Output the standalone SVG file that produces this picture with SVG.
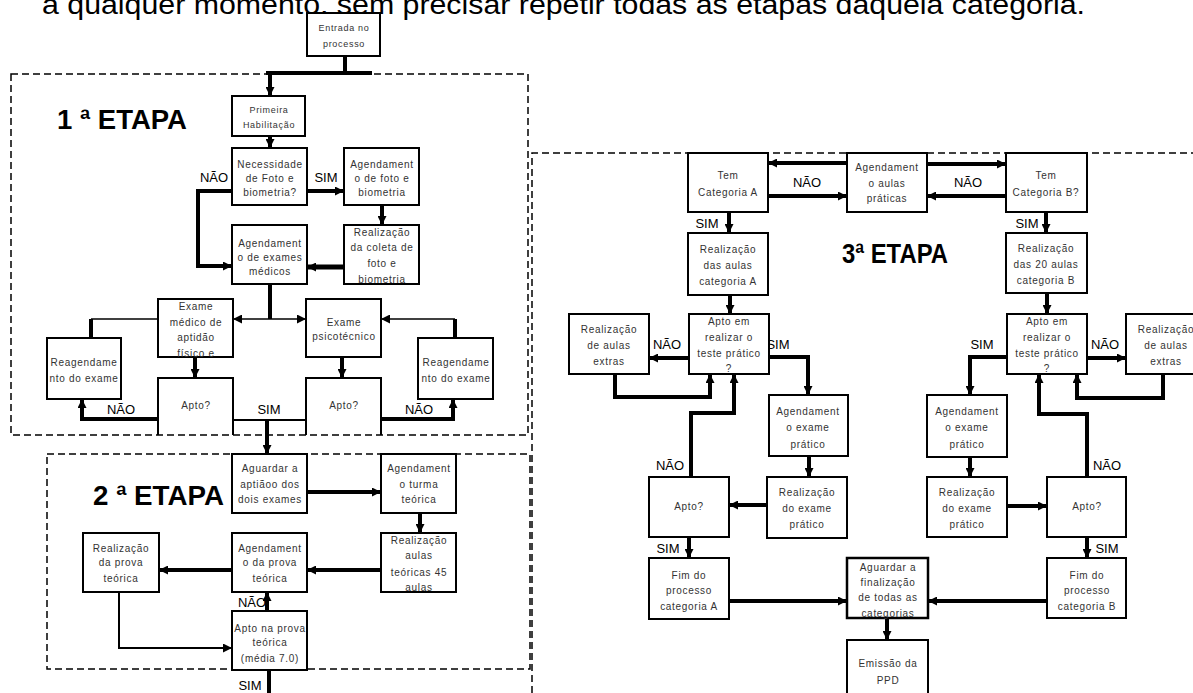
<svg xmlns="http://www.w3.org/2000/svg" width="1193" height="693" viewBox="0 0 1193 693">
<defs>
<marker id="ah" viewBox="0 0 9 9" refX="9" refY="4.5" markerWidth="9" markerHeight="9" markerUnits="userSpaceOnUse" orient="auto-start-reverse"><path d="M0,0 L9,4.5 L0,9 z" fill="#000"/></marker>
<style>
.bx{fill:#fff;stroke:#000;stroke-width:2}
.op{fill:none;stroke:#000;stroke-width:2}
.t{font-family:"Liberation Sans",Arial,sans-serif;font-size:10px;letter-spacing:0.7px;fill:#333;text-anchor:middle}
.lb{font-family:"Liberation Sans",Arial,sans-serif;font-size:13px;fill:#000;text-anchor:middle}
.st{font-family:"Liberation Sans",Arial,sans-serif;font-size:27px;font-weight:bold;fill:#000}
.dash{fill:none;stroke:#000;stroke-width:1.5;stroke-dasharray:7 4}
.k{fill:none;stroke:#000;stroke-width:4}
.n{fill:none;stroke:#000;stroke-width:1.5}
.a{marker-end:url(#ah)}
</style>
</defs>
<rect width="1193" height="693" fill="#fff"/>
<text x="42" y="14" font-family="Liberation Sans, Arial, sans-serif" font-size="27" textLength="1043" lengthAdjust="spacingAndGlyphs" fill="#000">a qualquer momento, sem precisar repetir todas as etapas daquela categoria.</text>

<g id="stages">
<rect class="dash" x="11" y="74" width="517" height="361"/>
<rect class="dash" x="47" y="454" width="483" height="215"/>
<path class="dash" d="M532,693 V153 H1193"/>
<text class="st" x="57" y="129" textLength="130" lengthAdjust="spacingAndGlyphs">1 ª ETAPA</text>
<text class="st" x="93" y="505" textLength="131" lengthAdjust="spacingAndGlyphs">2 ª ETAPA</text>
<text class="st" x="842" y="263" textLength="106" lengthAdjust="spacingAndGlyphs">3ª ETAPA</text>
</g>

<g id="connectors">
<path class="k" d="M345,56 V73"/>
<path class="k" d="M266,73 H372"/>
<path class="k a" d="M270,73 V96"/>
<path class="k a" d="M270,136 V148"/>
<path class="k a" d="M307,191 H344"/>
<path class="k a" d="M232,191 H198 V266 H232"/>
<path class="k a" d="M382,205 V225"/>
<path class="k a" d="M344,267 H307" style="stroke-width:5"/>
<path class="k" d="M270,284 V319"/>
<path class="n a" d="M233,319 H306" style="marker-start:url(#ah)"/>
<path class="k" d="M91,338 V319"/>
<path class="n" d="M91,319 H158"/>
<path class="k" d="M455,338 V319"/>
<path class="n a" d="M455,319 H381"/>
<path class="k a" d="M195,357 V378"/>
<path class="k a" d="M342,357 V378"/>
<path class="k a" d="M158,419 H82 V399"/>
<path class="k a" d="M381,419 H453 V399"/>
<path class="op" d="M233,420 H306"/>
<path class="k a" d="M267,420 V454"/>
<path class="k a" d="M307,492 H381"/>
<path class="k a" d="M420,513 V533"/>
<path class="k a" d="M381,570 H307"/>
<path class="k a" d="M232,570 H159"/>
<path class="k a" d="M267,611 V592"/>
<path class="op a" d="M119,592 V648 H232"/>
<path class="k" d="M269,670 V693"/>
<path class="k a" d="M847,163 H768"/>
<path class="k a" d="M768,196 H847"/>
<path class="k a" d="M927,164 H1006"/>
<path class="k a" d="M1006,196 H927"/>
<path class="k a" d="M729,212 V233"/>
<path class="k a" d="M1046,212 V233"/>
<path class="k a" d="M730,295 V314"/>
<path class="k a" d="M1047,293 V314"/>
<path class="k a" d="M689,358 H649"/>
<path class="k a" d="M615,374 V397 H710 V374"/>
<path class="k a" d="M769,357 H808 V395"/>
<path class="k a" d="M809,456 V477"/>
<path class="k a" d="M691,477 V413 H734 V374"/>
<path class="k a" d="M767,505 H729"/>
<path class="k a" d="M689,537 V558"/>
<path class="k a" d="M729,601 H847"/>
<path class="k a" d="M1087,358 H1126"/>
<path class="k a" d="M1163,374 V398 H1077 V374"/>
<path class="k a" d="M1007,357 H970 V395"/>
<path class="k a" d="M970,457 V477"/>
<path class="k a" d="M1087,477 V414 H1039 V374"/>
<path class="k a" d="M1007,506 H1047"/>
<path class="k a" d="M1087,537 V558"/>
<path class="k a" d="M1047,601 H928"/>
<path class="k a" d="M887,618 V640"/>
</g>

<g id="labels">
<text class="lb" x="214" y="182">NÃO</text>
<text class="lb" x="326" y="182">SIM</text>
<text class="lb" x="121" y="414">NÃO</text>
<text class="lb" x="269" y="414">SIM</text>
<text class="lb" x="419" y="414">NÃO</text>
<text class="lb" x="252" y="607">NÃO</text>
<text class="lb" x="250" y="690">SIM</text>
<text class="lb" x="807" y="187">NÃO</text>
<text class="lb" x="968" y="187">NÃO</text>
<text class="lb" x="707" y="228">SIM</text>
<text class="lb" x="1027" y="228">SIM</text>
<text class="lb" x="667" y="349">NÃO</text>
<text class="lb" x="778" y="349">SIM</text>
<text class="lb" x="982" y="349">SIM</text>
<text class="lb" x="1105" y="349">NÃO</text>
<text class="lb" x="670" y="470">NÃO</text>
<text class="lb" x="1107" y="470">NÃO</text>
<text class="lb" x="668" y="553">SIM</text>
<text class="lb" x="1107" y="553">SIM</text>
</g>

<g id="entrada"><rect class="bx" x="307" y="13" width="73" height="43"/><text class="t" style="font-size:9px"><tspan x="344" y="31">Entrada no</tspan><tspan x="344" y="47">processo</tspan></text></g>
<g id="primeira"><rect class="bx" x="232" y="96" width="73" height="40"/><text class="t" style="font-size:9px"><tspan x="269" y="113">Primeira</tspan><tspan x="269" y="128">Habilitação</tspan></text></g>
<g id="necessidade"><rect class="bx" x="232" y="148" width="75" height="57"/><text class="t"><tspan x="270" y="168">Necessidade</tspan><tspan x="270" y="182">de Foto e</tspan><tspan x="270" y="196">biometria?</tspan></text></g>
<g id="ag-foto"><rect class="bx" x="344" y="148" width="75" height="57"/><text class="t"><tspan x="382" y="168">Agendament</tspan><tspan x="382" y="182">o de foto e</tspan><tspan x="382" y="196">biometria</tspan></text></g>
<g id="ag-exames"><rect class="bx" x="232" y="225" width="75" height="59"/><text class="t"><tspan x="270" y="247">Agendament</tspan><tspan x="270" y="261">o de exames</tspan><tspan x="270" y="275">médicos</tspan></text></g>
<g id="coleta"><rect class="bx" x="344" y="225" width="75" height="59"/><text class="t"><tspan x="382" y="236">Realização</tspan><tspan x="382" y="251">da coleta de</tspan><tspan x="382" y="267">foto e</tspan><tspan x="382" y="283">biometria</tspan></text></g>
<g id="exame-medico"><rect class="bx" x="158" y="299" width="75" height="58"/><text class="t"><tspan x="196" y="310">Exame</tspan><tspan x="196" y="326">médico de</tspan><tspan x="196" y="341">aptidão</tspan><tspan x="196" y="357">físico e</tspan></text></g>
<g id="psico"><rect class="bx" x="306" y="299" width="75" height="58"/><text class="t"><tspan x="344" y="326">Exame</tspan><tspan x="344" y="340">psicotécnico</tspan></text></g>
<g id="reag1"><rect class="bx" x="47" y="338" width="74" height="61"/><text class="t"><tspan x="84" y="366">Reagendame</tspan><tspan x="84" y="382">nto do exame</tspan></text></g>
<g id="reag2"><rect class="bx" x="418" y="338" width="75" height="61"/><text class="t"><tspan x="456" y="366">Reagendame</tspan><tspan x="456" y="382">nto do exame</tspan></text></g>
<g id="apto1"><path class="op" d="M158,435 V378 H233 V435"/><text class="t" x="196" y="409">Apto?</text></g>
<g id="apto2"><path class="op" d="M306,435 V378 H381 V435"/><text class="t" x="344" y="409">Apto?</text></g>

<g id="aguardar"><rect class="bx" x="232" y="454" width="75" height="59"/><text class="t"><tspan x="270" y="472">Aguardar a</tspan><tspan x="270" y="488">aptiãoo dos</tspan><tspan x="270" y="503">dois exames</tspan></text></g>
<g id="turma"><rect class="bx" x="381" y="454" width="75" height="59"/><text class="t"><tspan x="419" y="472">Agendament</tspan><tspan x="419" y="488">o turma</tspan><tspan x="419" y="503">teórica</tspan></text></g>
<g id="aulas45"><rect class="bx" x="381" y="533" width="75" height="59"/><text class="t"><tspan x="419" y="544">Realização</tspan><tspan x="419" y="559">aulas</tspan><tspan x="419" y="576">teóricas 45</tspan><tspan x="419" y="591">aulas</tspan></text></g>
<g id="ag-prova"><rect class="bx" x="232" y="533" width="75" height="59"/><text class="t"><tspan x="270" y="552">Agendament</tspan><tspan x="270" y="566">o da prova</tspan><tspan x="270" y="582">teórica</tspan></text></g>
<g id="real-prova"><rect class="bx" x="83" y="533" width="76" height="59"/><text class="t"><tspan x="121" y="552">Realização</tspan><tspan x="121" y="566">da prova</tspan><tspan x="121" y="582">teórica</tspan></text></g>
<g id="apto-prova"><rect class="bx" x="232" y="611" width="75" height="59"/><text class="t"><tspan x="270" y="632">Apto na prova</tspan><tspan x="270" y="646">teórica</tspan><tspan x="270" y="662">(média 7.0)</tspan></text></g>

<g id="temA"><rect class="bx" x="688" y="153" width="80" height="59"/><text class="t"><tspan x="728" y="179">Tem</tspan><tspan x="728" y="196">Categoria A</tspan></text></g>
<g id="ag-praticas"><rect class="bx" x="847" y="153" width="80" height="59"/><text class="t"><tspan x="887" y="171">Agendament</tspan><tspan x="887" y="187">o aulas</tspan><tspan x="887" y="202">práticas</tspan></text></g>
<g id="temB"><rect class="bx" x="1006" y="153" width="81" height="59"/><text class="t"><tspan x="1046" y="179">Tem</tspan><tspan x="1046" y="196">Categoria B?</tspan></text></g>
<g id="realA"><rect class="bx" x="688" y="233" width="80" height="62"/><text class="t"><tspan x="728" y="253">Realização</tspan><tspan x="728" y="269">das aulas</tspan><tspan x="728" y="285">categoria A</tspan></text></g>
<g id="realB"><rect class="bx" x="1006" y="233" width="81" height="60"/><text class="t"><tspan x="1046" y="252">Realização</tspan><tspan x="1046" y="268">das 20 aulas</tspan><tspan x="1046" y="284">categoria B</tspan></text></g>
<g id="aptoA"><rect class="bx" x="689" y="314" width="80" height="60"/><text class="t"><tspan x="729" y="325">Apto em</tspan><tspan x="729" y="341">realizar o</tspan><tspan x="729" y="357">teste prático</tspan><tspan x="729" y="372">?</tspan></text></g>
<g id="extrasA"><rect class="bx" x="569" y="314" width="80" height="60"/><text class="t"><tspan x="609" y="333">Realização</tspan><tspan x="609" y="349">de aulas</tspan><tspan x="609" y="365">extras</tspan></text></g>
<g id="aptoB"><rect class="bx" x="1007" y="314" width="80" height="60"/><text class="t"><tspan x="1047" y="325">Apto em</tspan><tspan x="1047" y="341">realizar o</tspan><tspan x="1047" y="357">teste prático</tspan><tspan x="1047" y="372">?</tspan></text></g>
<g id="extrasB"><rect class="bx" x="1126" y="314" width="80" height="60"/><text class="t"><tspan x="1166" y="333">Realização</tspan><tspan x="1166" y="349">de aulas</tspan><tspan x="1166" y="365">extras</tspan></text></g>
<g id="agexA"><rect class="bx" x="769" y="395" width="79" height="61"/><text class="t"><tspan x="808" y="415">Agendament</tspan><tspan x="808" y="431">o exame</tspan><tspan x="808" y="448">prático</tspan></text></g>
<g id="agexB"><rect class="bx" x="927" y="395" width="80" height="62"/><text class="t"><tspan x="967" y="415">Agendament</tspan><tspan x="967" y="431">o exame</tspan><tspan x="967" y="448">prático</tspan></text></g>
<g id="realexA"><rect class="bx" x="767" y="477" width="80" height="61"/><text class="t"><tspan x="807" y="496">Realização</tspan><tspan x="807" y="512">do exame</tspan><tspan x="807" y="528">prático</tspan></text></g>
<g id="realexB"><rect class="bx" x="927" y="477" width="80" height="60"/><text class="t"><tspan x="967" y="496">Realização</tspan><tspan x="967" y="512">do exame</tspan><tspan x="967" y="528">prático</tspan></text></g>
<g id="aptoA2"><rect class="bx" x="649" y="477" width="80" height="60"/><text class="t" x="689" y="510">Apto?</text></g>
<g id="aptoB2"><rect class="bx" x="1047" y="477" width="79" height="60"/><text class="t" x="1087" y="510">Apto?</text></g>
<g id="fimA"><rect class="bx" x="649" y="558" width="80" height="61"/><text class="t"><tspan x="689" y="579">Fim do</tspan><tspan x="689" y="594">processo</tspan><tspan x="689" y="610">categoria A</tspan></text></g>
<g id="fimB"><rect class="bx" x="1047" y="558" width="79" height="60"/><text class="t"><tspan x="1087" y="579">Fim do</tspan><tspan x="1087" y="594">processo</tspan><tspan x="1087" y="610">categoria B</tspan></text></g>
<g id="aguardar-fin"><rect class="bx" x="847" y="558" width="81" height="60" style="stroke-width:2.5"/><text class="t"><tspan x="888" y="571">Aguardar a</tspan><tspan x="888" y="586">finalização</tspan><tspan x="888" y="601">de todas as</tspan><tspan x="888" y="617">categorias</tspan></text></g>
<g id="emissao"><rect class="bx" x="847" y="640" width="81" height="60"/><text class="t"><tspan x="888" y="667">Emissão da</tspan><tspan x="888" y="684">PPD</tspan></text></g>
</svg>
